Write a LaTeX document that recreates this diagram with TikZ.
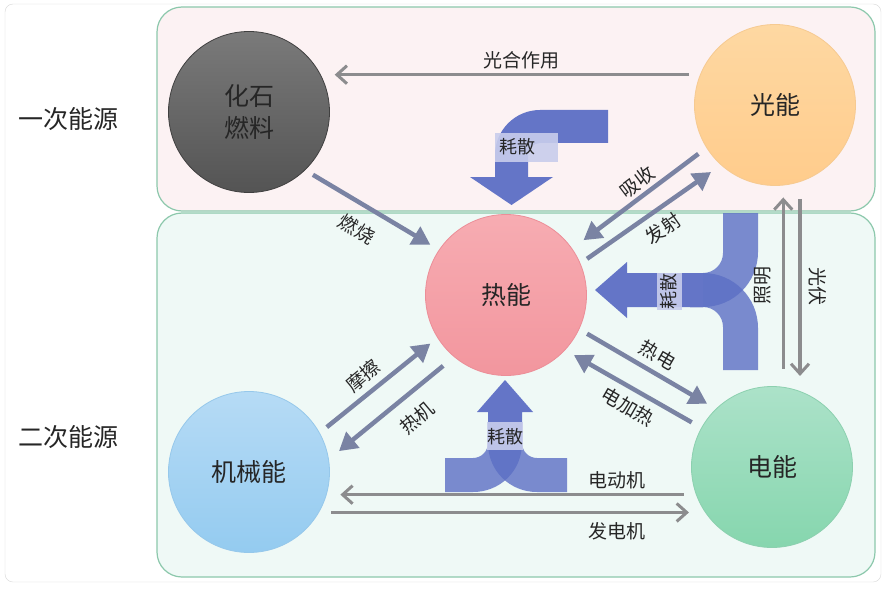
\documentclass[tikz,border=0pt]{standalone}
\usepackage{fontspec}
\setmainfont{Noto Sans CJK SC}
\usepackage{tikz}
\usetikzlibrary{arrows.meta}
\definecolor{toppink}{RGB}{252,242,243}
\definecolor{botmint}{RGB}{239,249,246}
\definecolor{boxedge}{RGB}{140,200,172}
\definecolor{framegray}{RGB}{215,215,215}
\definecolor{dissblue}{RGB}{92,111,196}
\definecolor{dissdark}{RGB}{100,117,199}
\definecolor{tagfill}{RGB}{200,205,236}
\definecolor{arrowgray}{RGB}{122,131,163}
\definecolor{linegray}{RGB}{140,140,142}

\begin{document}
\begin{tikzpicture}[x=1pt, y=-1pt,
		energy/.style={circle, minimum size=161pt, inner sep=0pt, align=center, line width=.8pt,
			font=\fontsize{25}{32}\selectfont, text=black!85},
		side/.style={font=\fontsize{25}{30}\selectfont, text=black!85},
		lbl/.style={font=\fontsize{19}{22}\selectfont, text=black!85, inner sep=0pt},
		tag/.style={font=\fontsize{18}{20}\selectfont, text=black!85, inner sep=0pt},
		conn/.style={draw=arrowgray, line width=4.5pt, -{Triangle[width=20pt,length=18pt]}},
		flow/.style={draw=linegray, line width=3.5pt, -{Straight Barb[width=18pt,length=10pt,line width=3pt]}},
		elbow/.style={fill=dissblue, fill opacity=.8},
		shaft/.style={fill=dissdark}]
				\useasboundingbox (0,0) rectangle (890,588);
				\draw[framegray, fill=white, rounded corners=8pt] (5,4) rectangle (881,582);
				\draw[boxedge, line width=1.2pt, fill=toppink, rounded corners=25pt] (157,7) rectangle (875,211);
				\draw[boxedge, line width=1.2pt, fill=botmint, rounded corners=25pt] (157,213) rectangle (875,577);
				\node[side] (primary) at (68,119) {一次能源};
				\node[side] (secondary) at (68,437) {二次能源};
				% dissipation, top
				\fill[shaft] (608,110) -- (540,110) .. controls (515.15,110) and (495,130.15) .. (495,155) -- (495,177) -- (470,177) -- (511.5,205) -- (553,177) -- (528,177) -- (528,155) .. controls (528,148.37) and (533.37,143) .. (540,143) -- (608,143) -- cycle;
				\fill[tagfill, fill opacity=.9] (495,133) rectangle (558,162);
				\node[tag] (disstop) at (517,147) {耗散};
				% dissipation, right
				\fill[elbow] (723,213) -- (758,213) -- (758,252) .. controls (758,282.38) and (733.62,307) .. (703,307) -- (690,307) -- (690,273) -- (703,273) .. controls (714.05,273) and (723,264.05) .. (723,253) -- cycle;
				\fill[elbow] (723,370) -- (758,370) -- (758,328) .. controls (758,297.62) and (733.62,273) .. (703,273) -- (690,273) -- (690,307) -- (703,307) .. controls (714.05,307) and (723,315.95) .. (723,327) -- cycle;
				\fill[shaft] (703,273) -- (627,273) -- (627,262) -- (595,290) -- (627,318) -- (627,307) -- (703,307) -- cycle;
				\fill[tagfill, fill opacity=.9] (657,273) rectangle (682,310);
				\node[tag, rotate=90] (dissright) at (669,291) {耗散};
				% dissipation, bottom
				\fill[elbow] (445,458) -- (445,492) -- (473,492) .. controls (500.06,492) and (522,470.94) .. (522,443) -- (522,430) -- (488,430) -- (488,443) .. controls (488,451.28) and (481.28,458) .. (473,458) -- cycle;
				\fill[elbow] (567,458) -- (567,492) -- (537,492) .. controls (509.94,492) and (488,470.94) .. (488,443) -- (488,430) -- (522,430) -- (522,443) .. controls (522,451.28) and (528.72,458) .. (537,458) -- cycle;
				\fill[shaft] (488,443) -- (488,412) -- (477,412) -- (505,380) -- (533,412) -- (522,412) -- (522,443) -- cycle;
				\fill[tagfill, fill opacity=.9] (487,422) rectangle (523,450);
				\node[tag] (dissbottom) at (505,437) {耗散};
				% energy forms
				\node[energy, top color={rgb,255:red,122;green,122;blue,122}, bottom color={rgb,255:red,84;green,84;blue,84}, draw={rgb,255:red,64;green,64;blue,64}] (fossil) at (249,112) {化石\\燃料};
				\node[energy, top color={rgb,255:red,254;green,216;blue,162}, bottom color={rgb,255:red,255;green,204;blue,140}, draw={rgb,255:red,246;green,202;blue,145}] (light) at (775,105) {光能};
				\node[energy, top color={rgb,255:red,247;green,172;blue,178}, bottom color={rgb,255:red,242;green,150;blue,158}, draw={rgb,255:red,236;green,142;blue,152}] (heat) at (506,295) {热能};
				\node[energy, top color={rgb,255:red,182;green,219;blue,245}, bottom color={rgb,255:red,148;green,203;blue,240}, draw={rgb,255:red,150;green,200;blue,235}] (mech) at (249,472) {机械能};
				\node[energy, top color={rgb,255:red,172;green,226;blue,201}, bottom color={rgb,255:red,134;green,214;blue,174}, draw={rgb,255:red,140;green,208;blue,175}] (elec) at (772,467) {电能};
				% conversions
				\draw[flow, shorten <=11pt, shorten >=13pt] (light.158) -- (light.158 -| fossil.26);
				\draw[conn, shorten <=9pt, shorten >=10pt] (fossil.314) -- (heat.146);
				\draw[conn, shorten <=10pt, shorten >=14pt] (light.212) -- (heat.35);
				\draw[conn, shorten <=8pt, shorten >=12pt] (heat.23) -- (light.228);
				\draw[flow, shorten <=18pt, shorten >=12pt] (elec.82) -- (elec.82 |- light.276);
				\draw[flow, shorten <=17pt, shorten >=15pt] (light.288) -- (light.288 |- elec.70);
				\draw[conn, shorten <=9pt, shorten >=10pt] (heat.335) -- (elec.134);
				\draw[conn, shorten <=11pt, shorten >=10pt] (elec.151) -- (heat.317);
				\draw[conn, shorten <=9pt, shorten >=9pt] (mech.29) -- (heat.212);
				\draw[conn, shorten <=14pt, shorten >=13pt] (heat.230) -- (mech.9);
				\draw[flow, shorten <=12pt, shorten >=14pt] (elec.200) -- (elec.200 -| mech.343);
				\draw[flow, shorten <=12pt, shorten >=16pt] (mech.330) -- (mech.330 -| elec.214);
				\node[lbl] (photosyn) at (521,60) {光合作用};
				\node[lbl, rotate=-31] (burn) at (357,229) {燃烧};
				\node[lbl, rotate=37] (absorb) at (637,182) {吸收};
				\node[lbl, rotate=35] (emit) at (663,229) {发射};
				\node[lbl, rotate=90] (lighting) at (763,285) {照明};
				\node[lbl, rotate=-90] (pv) at (818,286) {光伏};
				\node[lbl, rotate=-30] (thermo) at (658,355) {热电};
				\node[lbl, rotate=-30] (eheat) at (628,407) {电加热};
				\node[lbl, rotate=40] (friction) at (363,376) {摩擦};
				\node[lbl, rotate=40] (engine) at (417,418) {热机};
				\node[lbl] (motor) at (617,480) {电动机};
				\node[lbl] (generator) at (617,531) {发电机};
			\end{tikzpicture}
\end{document}
